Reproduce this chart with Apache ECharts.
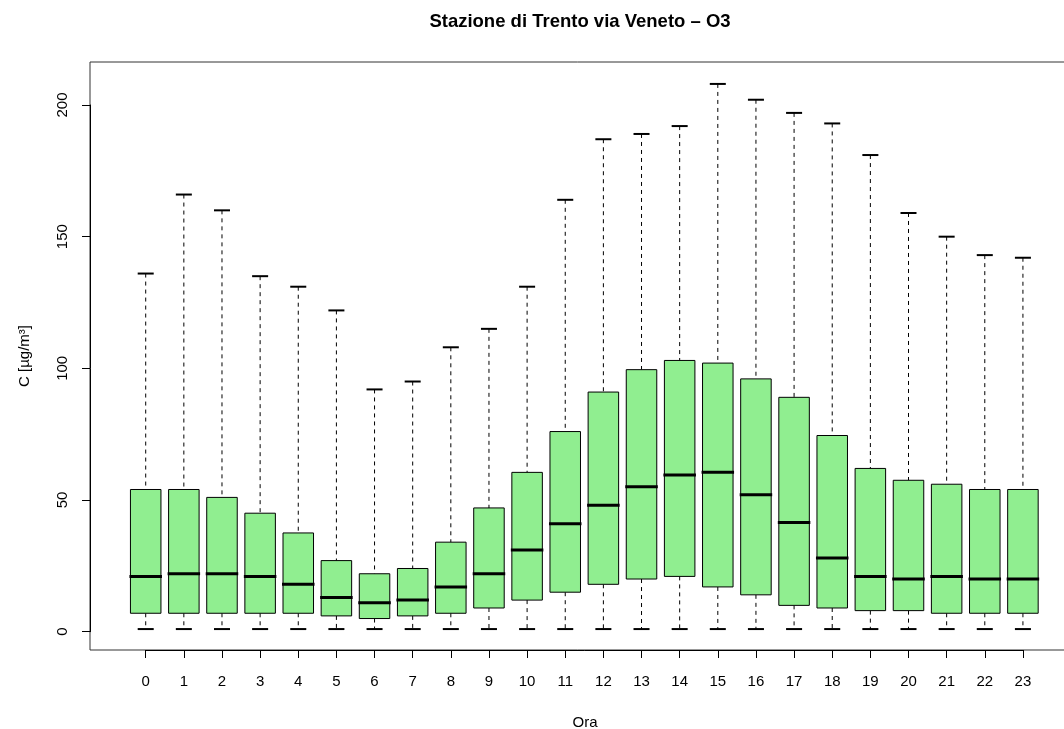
<!DOCTYPE html>
<html>
<head>
<meta charset="utf-8">
<script src="https://cdn.jsdelivr.net/npm/echarts@6/dist/echarts.min.js"></script>
<style>
  html, body { margin: 0; padding: 0; background: #fff; }
  #chart { width: 1064px; height: 729px; }
</style>
</head>
<body>
<div id="chart"></div>
<script>
// ore del giorno
const hours = ['0','1','2','3','4','5','6','7','8','9','10','11','12','13','14','15','16','17','18','19','20','21','22','23'];
// statistiche del boxplot (ug/m3)
const whiskerLow = [1,1,1,1,1,1,1,1,1,1,1,1,1,1,1,1,1,1,1,1,1,1,1,1];
const q1 = [7,7,7,7,7,6,5,6,7,9,12,15,18,20,21,17,14,10,9,8,8,7,7,7];
const median = [21,22,22,21,18,13,11,12,17,22,31,41,48,55,59.5,60.5,52,41.5,28,21,20,21,20,20];
const q3 = [54,54,51,45,37.5,27,22,24,34,47,60.5,76,91,99.5,103,102,96,89,74.5,62,57.5,56,54,54];
const whiskerHigh = [136,166,160,135,131,122,92,95,108,115,131,164,187,189,192,208,202,197,193,181,159,150,143,142];
const yTicks = [0, 50, 100, 150, 200];

// layout in pixel (stile R)
const frame = { left: 90, top: 62, right: 1080, bottom: 650 };
const xFirst = 145.7, xStep = 38.14;   // centro del box 0 e passo
const yZero = 631.7, yStep = 2.6335;   // pixel del valore 0 e pixel per unita

const xMin = -(xFirst - frame.left) / xStep;
const xMax = (frame.right - xFirst) / xStep;
const yMin = -(frame.bottom - yZero) / yStep;
const yMax = (yZero - frame.top) / yStep;

const boxData = hours.map((h, i) => [i, whiskerLow[i], q1[i], median[i], q3[i], whiskerHigh[i]]);

function renderBox(params, api) {
  const x = api.value(0);
  const lo = api.coord([x, api.value(1)]);
  const b1 = api.coord([x, api.value(2)]);
  const md = api.coord([x, api.value(3)]);
  const b3 = api.coord([x, api.value(4)]);
  const hi = api.coord([x, api.value(5)]);
  const c = lo[0];
  const unit = api.size([1, 0])[0];
  const hw = unit * 0.4, cw = unit * 0.21;
  const dash = { stroke: '#000', lineWidth: 1, lineDash: [4, 4] };
  return {
    type: 'group',
    children: [
      { type: 'line', shape: { x1: c, y1: hi[1], x2: c, y2: b3[1] }, style: dash },
      { type: 'line', shape: { x1: c, y1: b1[1], x2: c, y2: lo[1] }, style: dash },
      { type: 'line', shape: { x1: c - cw, y1: hi[1], x2: c + cw, y2: hi[1] }, style: { stroke: '#000', lineWidth: 2 } },
      { type: 'line', shape: { x1: c - cw, y1: lo[1], x2: c + cw, y2: lo[1] }, style: { stroke: '#000', lineWidth: 2 } },
      { type: 'rect', shape: { x: c - hw, y: b3[1], width: hw * 2, height: b1[1] - b3[1] },
        style: { fill: '#90ee90', stroke: '#000', lineWidth: 1 } },
      { type: 'line', shape: { x1: c - hw - 1, y1: md[1], x2: c + hw + 1, y2: md[1] }, style: { stroke: '#000', lineWidth: 3 } }
    ]
  };
}

const font = 'Liberation Sans, Arial, sans-serif';
const chart = echarts.init(document.getElementById('chart'));
chart.setOption({
  animation: false,
  title: {
    text: 'Stazione di Trento via Veneto \u2013 O3',
    left: 580, top: 12, textAlign: 'center', padding: 0,
    textStyle: { fontFamily: font, fontSize: 18.5, fontWeight: 'bold', color: '#000' }
  },
  grid: [
    { left: frame.left, top: frame.top, width: frame.right - frame.left, height: frame.bottom - frame.top,
      outerBoundsMode: 'none', containLabel: false,
      show: true, borderColor: '#333', borderWidth: 1, backgroundColor: 'transparent' },
    { left: xFirst, top: yZero - 200 * yStep, width: 23 * xStep, height: 200 * yStep,
      outerBoundsMode: 'none', containLabel: false }
  ],
  xAxis: [
    { type: 'value', gridIndex: 0, min: xMin, max: xMax,
      name: 'Ora', nameLocation: 'middle', nameGap: 65,
      nameTextStyle: { fontFamily: font, fontSize: 15, color: '#000' },
      axisLine: { show: false, onZero: false }, axisTick: { show: false }, axisLabel: { show: false }, splitLine: { show: false } },
    { type: 'category', gridIndex: 1, data: hours, boundaryGap: false, offset: frame.bottom - yZero,
      axisLine: { onZero: false, lineStyle: { color: '#000', width: 1 } },
      axisTick: { length: 8, alignWithLabel: true, lineStyle: { color: '#000' } },
      axisLabel: { interval: 0, margin: 24, fontFamily: font, fontSize: 15, color: '#000' },
      splitLine: { show: false } }
  ],
  yAxis: [
    { type: 'value', gridIndex: 0, min: yMin, max: yMax,
      name: 'C [\u00b5g/m\u00b3]', nameLocation: 'middle', nameGap: 58,
      nameTextStyle: { fontFamily: font, fontSize: 15, color: '#000' },
      axisLine: { show: false, onZero: false }, axisTick: { show: false }, axisLabel: { show: false }, splitLine: { show: false } },
    { type: 'value', gridIndex: 1, min: yTicks[0], max: yTicks[yTicks.length - 1], interval: 50,
      offset: xFirst - frame.left,
      axisLine: { show: true, onZero: false, lineStyle: { color: '#000', width: 1 } },
      axisTick: { show: true, length: 8, lineStyle: { color: '#000' } },
      axisLabel: { rotate: 90, margin: 20, fontFamily: font, fontSize: 15, color: '#000' },
      splitLine: { show: false } }
  ],
  series: [{
    type: 'custom',
    xAxisIndex: 0, yAxisIndex: 0,
    renderItem: renderBox,
    encode: { x: 0, y: [1, 2, 3, 4, 5] },
    data: boxData
  }]
});
</script>
</body>
</html>
